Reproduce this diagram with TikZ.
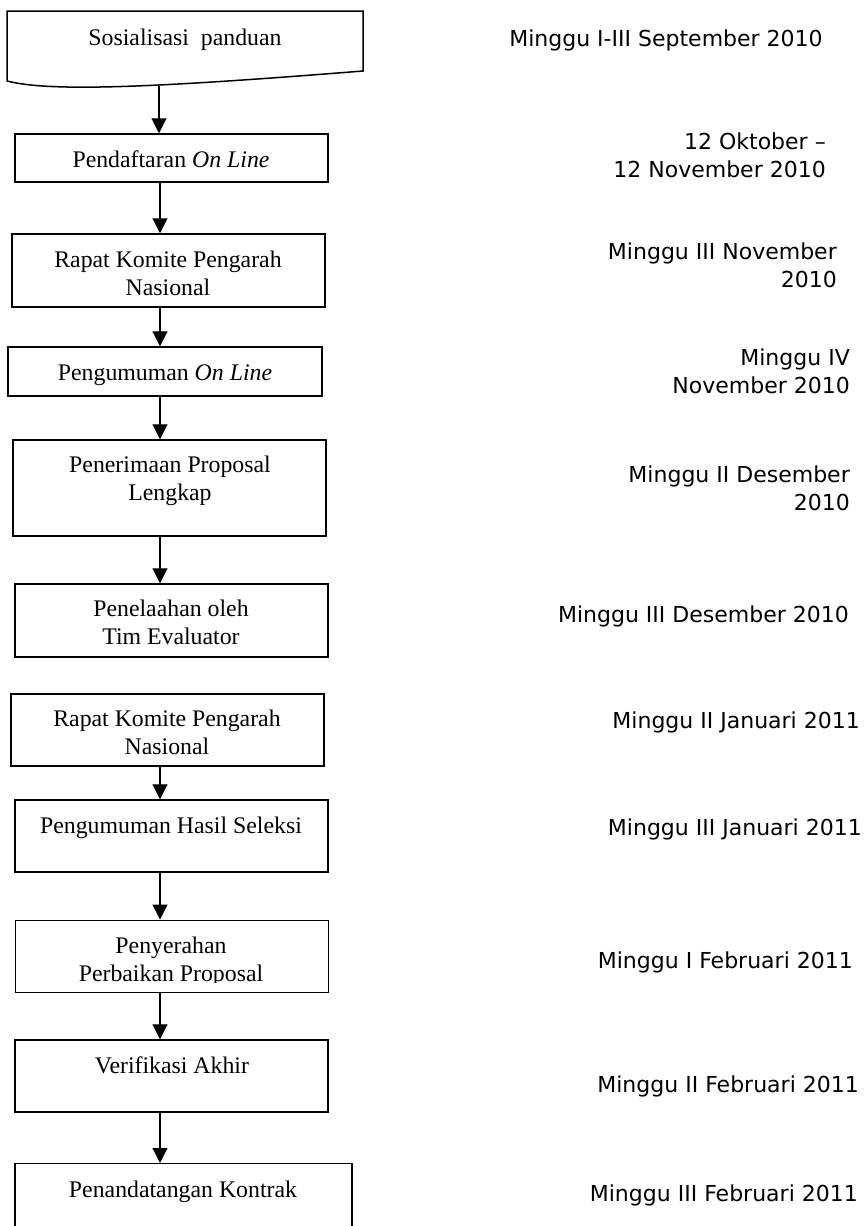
\documentclass[tikz,border=0pt]{standalone}
\usepackage{fontspec}
\setmainfont{Liberation Serif}
\newfontfamily\datefont{DejaVu Sans}
\usetikzlibrary{arrows.meta}
\begin{document}
\begin{tikzpicture}[x=1pt,y=-1pt,
  box/.style={draw, line width=1.5pt, rectangle, inner sep=0pt},
  lbl/.style={font=\fontsize{23.8}{28}\selectfont, align=center, inner sep=0pt, anchor=base},
  dt/.style={font=\datefont\fontsize{22}{28}\selectfont, align=right, inner sep=0pt, anchor=base east},
  arr/.style={line width=1.1pt, -{Triangle[width=15pt,length=15pt]}}]
\useasboundingbox (0,0) rectangle (863,1226);
\fill[white] (0,0) rectangle (863,1226);

% document-shaped first box
\node[inner sep=0pt, minimum width=356pt, minimum height=70pt] (b1) at (185,46) {};
\coordinate (b1bot) at (159,86.3);
\draw[line width=1.5pt] (7,81) -- (7,11) -- (363,11) -- (363,71)
  .. controls (150,88) and (50,92) .. (7,81) -- cycle;

% boxes
\node[box, minimum width=313pt, minimum height=48pt] (b2) at (171.5,158) {};
\node[box, minimum width=313pt, minimum height=73pt] (b3) at (168.5,270.5) {};
\node[box, minimum width=314pt, minimum height=49pt] (b4) at (165,371.5) {};
\node[box, minimum width=313pt, minimum height=96pt] (b5) at (169.5,488) {};
\node[box, minimum width=313pt, minimum height=73pt] (b6) at (171.5,620.5) {};
\node[box, minimum width=313pt, minimum height=72pt] (b7) at (167.5,730) {};
\node[box, minimum width=313pt, minimum height=72pt] (b8) at (171.5,836) {};
\node[box, line width=1pt, minimum width=313pt, minimum height=72pt] (b9) at (171.5,956) {};
\node[box, minimum width=313pt, minimum height=72pt] (b10) at (171.5,1076) {};
\node[box, line width=1.2pt, minimum width=337pt, minimum height=80pt, anchor=north] (b11) at (183.5,1163) {};

% box texts (multi-line nodes are placed by the baseline of their last line)
\node[lbl] (t1) at (185,45) {Sosialisasi\ \ panduan};
\node[lbl] (t2) at (171,167) {Pendaftaran \textit{On Line}};
\node[lbl] (t3) at (168,295) {Rapat Komite Pengarah\\Nasional};
\node[lbl] (t4) at (165,380) {Pengumuman \textit{On Line}};
\node[lbl] (t5) at (170,500) {Penerimaan Proposal\\Lengkap};
\node[lbl] (t6) at (171,644) {Penelaahan oleh\\Tim Evaluator};
\node[lbl] (t7) at (167,754) {Rapat Komite Pengarah\\Nasional};
\node[lbl] (t8) at (171,833) {Pengumuman Hasil Seleksi};
\begin{scope}
  \clip (15,921) rectangle (328,982);
  \node[lbl] (t9) at (171,981) {Penyerahan\\Perbaikan Proposal};
\end{scope}
\node[lbl] (t10) at (172,1073) {Verifikasi Akhir};
\node[lbl] (t11) at (183,1197) {Penandatangan Kontrak};

% connectors
\coordinate (ax) at (160,0);
\draw[arr] (b1bot) -- (b2.north -| b1bot);
\draw[arr] (b2.south -| ax) -- (b3.north -| ax);
\draw[arr] (b3.south -| ax) -- (b4.north -| ax);
\draw[arr] (b4.south -| ax) -- (b5.north -| ax);
\draw[arr] (b5.south -| ax) -- (b6.north -| ax);
\draw[arr] (b7.south -| ax) -- (b8.north -| ax);
\draw[arr] (b8.south -| ax) -- (b9.north -| ax);
\draw[arr] (b9.south -| ax) -- (b10.north -| ax);
\draw[arr] (b10.south -| ax) -- (b11.north -| ax);

% dates
\node[dt, anchor=base] (d1) at (666,46) {Minggu I-III September 2010};
\node[dt] (d2) at (826,177) {12 Oktober –\\12 November 2010};
\node[dt] (d3) at (837,287) {Minggu III November\\2010};
\node[dt] (d4) at (850,393) {Minggu IV\\November 2010};
\node[dt] (d5) at (850,510) {Minggu II Desember\\2010};
\node[dt] (d6) at (849,622) {Minggu III Desember 2010};
\node[dt] (d7) at (860,728) {Minggu II Januari 2011};
\node[dt] (d8) at (862,835) {Minggu III Januari 2011};
\node[dt] (d9) at (853,968) {Minggu I Februari 2011};
\node[dt] (d10) at (859,1092) {Minggu II Februari 2011};
\node[dt] (d11) at (858,1201) {Minggu III Februari 2011};
\end{tikzpicture}
\end{document}
